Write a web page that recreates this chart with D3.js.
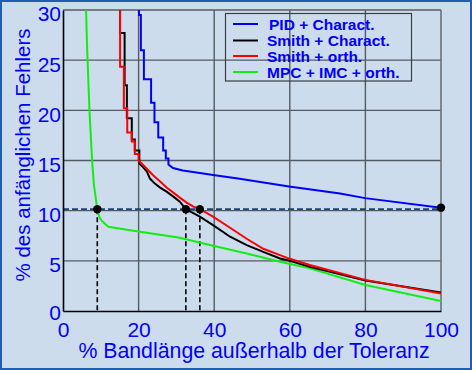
<!DOCTYPE html>
<html><head><meta charset="utf-8">
<script src="https://cdn.jsdelivr.net/npm/d3@7"></script>
<style>
html,body{margin:0;padding:0;background:#cddcec;}
svg{display:block;}
</style></head>
<body>
<script>
// ---- data ----
const seriesNames = ["PID + Charact.", "Smith + Charact.", "Smith + orth.", "MPC + IMC + orth."];
const seriesColors = ["#0000ff", "#000000", "#ff0000", "#11ee11"];
const pidX = [20.1,20.1,20.6,20.6,21.4,21.4,23.3,23.3,24.2,24.2,25.2,25.2,26.5,26.5,27.2,27.2,27.9,27.9,29.1,31.7,36.2,39.7,46.3,59.8,73.3,79.9,100];
const pidY = [30,29.5,29.5,26.0,26.0,23.1,23.1,20.75,20.75,18.8,18.8,17.3,17.3,16.0,16.0,15.2,15.2,14.6,14.25,14.0,13.75,13.55,13.2,12.4,11.7,11.25,10.3];
const smithChX = [15.1,15.1,16.3,16.3,16.9,16.9,18.2,18.2,19.0,19.0,20.2,20.2,21.3,22.2,23.0,24.3,25.7,27.4,29.2,30.9,32.5,36.2,39.7,44.2,48.6,53.0,57.4,60,65.3,80,100];
const smithChY = [30,27.7,27.7,22.5,22.5,19.2,19.2,17.1,17.1,16.0,16.0,14.7,14.3,13.9,13.2,12.7,12.3,11.9,11.4,10.9,10.15,9.4,8.56,7.4,6.57,5.9,5.24,5.0,4.4,3.05,1.85];
const smithOrthX = [15.1,15.1,16.1,16.1,17.0,17.0,18.2,18.2,19.0,19.0,20.0,20.0,22.1,23.9,25.7,27.4,29.2,30.9,32.7,34.5,36.2,39.7,44.2,48.6,53.0,57.4,60,65.3,80,100];
const smithOrthY = [30,24.35,24.35,20.2,20.2,17.8,17.8,16.9,16.9,15.65,15.65,15.0,14.2,13.5,12.9,12.3,11.8,11.3,10.8,10.4,10.15,9.4,8.3,7.2,6.2,5.57,5.2,4.58,3.1,1.75];
const mpcX = [6.1,6.4,7.0,7.7,8.2,9.07,9.6,10.2,12.0,16.9,30.9,39.7,48.6,57.4,65.3,80,100];
const mpcY = [30,26,20,15,12.5,10.15,9.4,9.0,8.4,8.1,7.3,6.5,5.74,4.9,4.25,2.6,1.0];
const refLevel = 10.15;
const markX = [9.07, 32.5, 36.2];
const endMarkX = [100];
const endMarkY = [10.3];
const xTicks = [0,20,40,60,80,100];
const yTicks = [0,5,10,15,20,25,30];
const xTitle = "% Bandlänge außerhalb der Toleranz";
const yTitle = "% des anfänglichen Fehlers";

// ---- chart ----
const W = 472, H = 370;
const svg = d3.select("body").append("svg").attr("width", W).attr("height", H);
svg.append("rect").attr("x",1).attr("y",1).attr("width",W-2).attr("height",H-2)
  .attr("fill","#cddcec").attr("stroke","#1d5fb0").attr("stroke-width",2);

const x = d3.scaleLinear().domain([0,100]).range([63,441]);
const y = d3.scaleLinear().domain([0,30]).range([311,10]);

const g = svg.append("g");
// grid
g.selectAll(".gx").data(xTicks.filter(d=>d>0&&d<100)).enter().append("line")
  .attr("x1",d=>x(d)).attr("x2",d=>x(d)).attr("y1",y(0)).attr("y2",y(30))
  .attr("stroke","#555b62").attr("stroke-width",1.4);
g.selectAll(".gy").data(yTicks.filter(d=>d>0&&d<30)).enter().append("line")
  .attr("x1",x(0)).attr("x2",x(100)).attr("y1",d=>y(d)).attr("y2",d=>y(d))
  .attr("stroke","#555b62").attr("stroke-width",1.4);
// frame top/right
g.append("line").attr("x1",x(0)).attr("x2",x(100)).attr("y1",y(30)).attr("y2",y(30)).attr("stroke","#555b62").attr("stroke-width",1.4);
g.append("line").attr("x1",x(100)).attr("x2",x(100)).attr("y1",y(0)).attr("y2",y(30)).attr("stroke","#6b7178").attr("stroke-width",1.6);

// axes
const xAxis = d3.axisBottom(x).tickValues(xTicks).tickSize(0).tickPadding(0);
const yAxis = d3.axisLeft(y).tickValues(yTicks).tickSize(0).tickPadding(0);
const ax = svg.append("g").attr("transform",`translate(0,${y(0)})`).call(xAxis);
ax.select(".domain").attr("stroke","#000").attr("stroke-width",1.6);
ax.selectAll("text").attr("font-family","Liberation Sans, Arial, sans-serif").attr("font-size",21)
  .attr("fill","#0000ff").attr("dy",null).attr("y",25.5);
const ay = svg.append("g").attr("transform",`translate(${x(0)},0)`).call(yAxis);
ay.select(".domain").attr("stroke","#000").attr("stroke-width",1.6);
ay.selectAll("text").attr("font-family","Liberation Sans, Arial, sans-serif").attr("font-size",21)
  .attr("fill","#0000ff").attr("x",-2).attr("dy","0.38em").attr("y",d=>d===0?1:3);

// clip
svg.append("clipPath").attr("id","clip").append("rect").attr("x",x(0)).attr("y",y(30)).attr("width",x(100)-x(0)).attr("height",y(0)-y(30));

// reference dashed lines
g.append("line").attr("x1",x(0)).attr("x2",x(100)).attr("y1",y(refLevel)).attr("y2",y(refLevel))
  .attr("stroke","#1f3f78").attr("stroke-width",1.6).attr("stroke-dasharray","6,3");
g.selectAll(".vd").data(markX).enter().append("line")
  .attr("x1",d=>x(d)).attr("x2",d=>x(d)).attr("y1",y(refLevel)).attr("y2",y(0))
  .attr("stroke","#000").attr("stroke-width",1.6).attr("stroke-dasharray","5,3");

// series
const allSeries = [[pidX,pidY],[smithChX,smithChY],[smithOrthX,smithOrthY],[mpcX,mpcY]];
const line = d3.line().x(d=>x(d[0])).y(d=>y(d[1]));
const drawOrder = [3,1,2,0];
drawOrder.forEach(i=>{
  const pts = d3.zip(allSeries[i][0], allSeries[i][1]);
  svg.append("path").datum(pts).attr("d",line).attr("fill","none")
    .attr("stroke",seriesColors[i]).attr("stroke-width",2).attr("clip-path","url(#clip)");
});

// markers
svg.selectAll(".mk").data(markX).enter().append("circle")
  .attr("cx",d=>x(d)).attr("cy",y(refLevel)).attr("r",4.2).attr("fill","#000");
svg.selectAll(".mk2").data(d3.zip(endMarkX,endMarkY)).enter().append("circle")
  .attr("cx",d=>x(d[0])).attr("cy",d=>y(d[1])).attr("r",4.2).attr("fill","#000");

// legend
const lg = svg.append("g");
lg.append("rect").attr("x",225.5).attr("y",13.5).attr("width",186).attr("height",67.5)
  .attr("fill","none").attr("stroke","#3a3f45").attr("stroke-width",1.2);
const legY = [24,40.5,56,72];
seriesNames.forEach((n,i)=>{
  lg.append("line").attr("x1",233).attr("x2",258).attr("y1",legY[i]).attr("y2",legY[i])
    .attr("stroke",seriesColors[i]).attr("stroke-width",2);
  lg.append("text").attr("x", i===0?269:267).attr("y",legY[i]).attr("dy","0.36em")
    .attr("font-family","Liberation Sans, Arial, sans-serif").attr("font-weight","bold")
    .attr("font-size",15.5).attr("fill","#0000ff").text(n);
});

// titles
svg.append("text").attr("x",254).attr("y",358).attr("text-anchor","middle")
  .attr("font-family","Liberation Sans, Arial, sans-serif").attr("font-size",21.3)
  .attr("fill","#0000ff").text(xTitle);
svg.append("text").attr("transform","translate(30,155) rotate(-90)").attr("text-anchor","middle")
  .attr("font-family","Liberation Sans, Arial, sans-serif").attr("font-size",20.5)
  .attr("fill","#0000ff").text(yTitle);
</script>
</body></html>
